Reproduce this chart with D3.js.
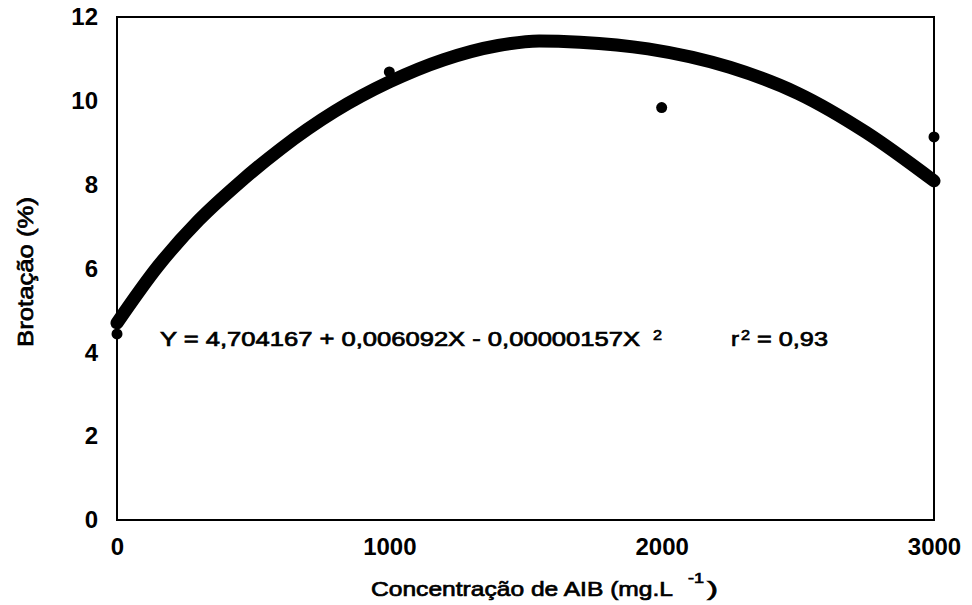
<!DOCTYPE html>
<html>
<head>
<meta charset="utf-8">
<script src="https://cdn.jsdelivr.net/npm/d3@7/dist/d3.min.js"></script>
<style>
  html, body { margin: 0; padding: 0; background: #fff; }
  svg { display: block; }
  text { font-family: "Liberation Sans", Arial, Helvetica, sans-serif; fill: #000; }
  .label { stroke: #000; stroke-width: 0.7px; }
</style>
</head>
<body>
<svg id="chart" width="972" height="605"></svg>
<script>
// Observed means: IBA concentration (mg/L) vs sprouting (%)
const concentrations = [0, 1000, 2000, 3000];
const sprouting = [4.44, 10.69, 9.84, 9.14];

// Fitted trend line, sampled along the concentration range
const trendX = [0, 150, 300, 450, 600, 800, 1000, 1200, 1400, 1550, 1700, 1950, 2250, 2500, 2750, 3000];
const trendY = [4.70, 6.05, 7.15, 8.05, 8.85, 9.75, 10.45, 10.98, 11.32, 11.43, 11.40, 11.24, 10.80, 10.18, 9.25, 8.09];

// Axis ticks
const xTicks = [0, 1000, 2000, 3000];
const yTicks = [0, 2, 4, 6, 8, 10, 12];

const svg = d3.select("#chart");
const plotLeft = 117, plotRight = 934, plotTop = 17, plotBottom = 520;

const x = d3.scaleLinear().domain([0, 3000]).range([plotLeft, plotRight]);
const y = d3.scaleLinear().domain([0, 12]).range([plotBottom, plotTop]);

// Plot frame
svg.append("rect")
  .attr("x", plotLeft).attr("y", plotTop)
  .attr("width", plotRight - plotLeft).attr("height", plotBottom - plotTop)
  .attr("fill", "none").attr("stroke", "#000").attr("stroke-width", 2);

const tickFont = g => g.selectAll("text")
  .style("font-size", "24px").style("font-weight", "bold")
  .style("font-family", "'Liberation Sans', Arial, sans-serif");

// Y axis labels (no tick marks)
svg.append("g").attr("transform", `translate(${plotLeft},0)`)
  .call(d3.axisLeft(y).tickValues(yTicks).tickSize(0).tickPadding(19).tickFormat(d3.format("d")))
  .call(g => g.select(".domain").remove())
  .call(tickFont);

// X axis labels
svg.append("g").attr("transform", `translate(0,${plotBottom})`)
  .call(d3.axisBottom(x).tickValues(xTicks).tickSize(0).tickPadding(18).tickFormat(d3.format("d")))
  .call(g => g.select(".domain").remove())
  .call(tickFont);

// Trend curve
const line = d3.line()
  .x((d, i) => x(trendX[i]))
  .y(d => y(d))
  .curve(d3.curveMonotoneX);
svg.append("path")
  .datum(trendY)
  .attr("d", line)
  .attr("fill", "none")
  .attr("stroke", "#000")
  .attr("stroke-width", 13)
  .attr("stroke-linecap", "round")
  .attr("stroke-linejoin", "round");

// Observed points
svg.append("g").selectAll("circle")
  .data(concentrations)
  .join("circle")
  .attr("cx", d => x(d))
  .attr("cy", (d, i) => y(sprouting[i]))
  .attr("r", 5.5)
  .attr("fill", "#000");

// Helper for stretched label text
function label(txt, px, py, size, len) {
  const t = svg.append("text").attr("class", "label")
    .attr("x", px).attr("y", py)
    .style("font-size", size + "px")
    .text(txt);
  if (len) t.attr("textLength", len).attr("lengthAdjust", "spacingAndGlyphs");
  return t;
}

// Regression equation and coefficient of determination
label("Y = 4,704167 + 0,006092X - 0,00000157X", 160, 346, 20, 480);
label("2", 653, 340, 15, 9);
label("r", 731, 346, 20, 8);
label("2", 741, 340, 15, 9);
label("= 0,93", 757, 346, 20, 71);

// Axis titles
svg.append("text").attr("class", "label")
  .attr("transform", "translate(33,272) rotate(-90)")
  .attr("text-anchor", "middle")
  .style("font-size", "22px")
  .attr("textLength", 150).attr("lengthAdjust", "spacingAndGlyphs")
  .text("Brotação (%)");

label("Concentração de AIB (mg.L", 371, 596, 21, 302);
label("-1", 688, 583, 14, 16);
label(")", 707, 596, 21, 11);
</script>
</body>
</html>
